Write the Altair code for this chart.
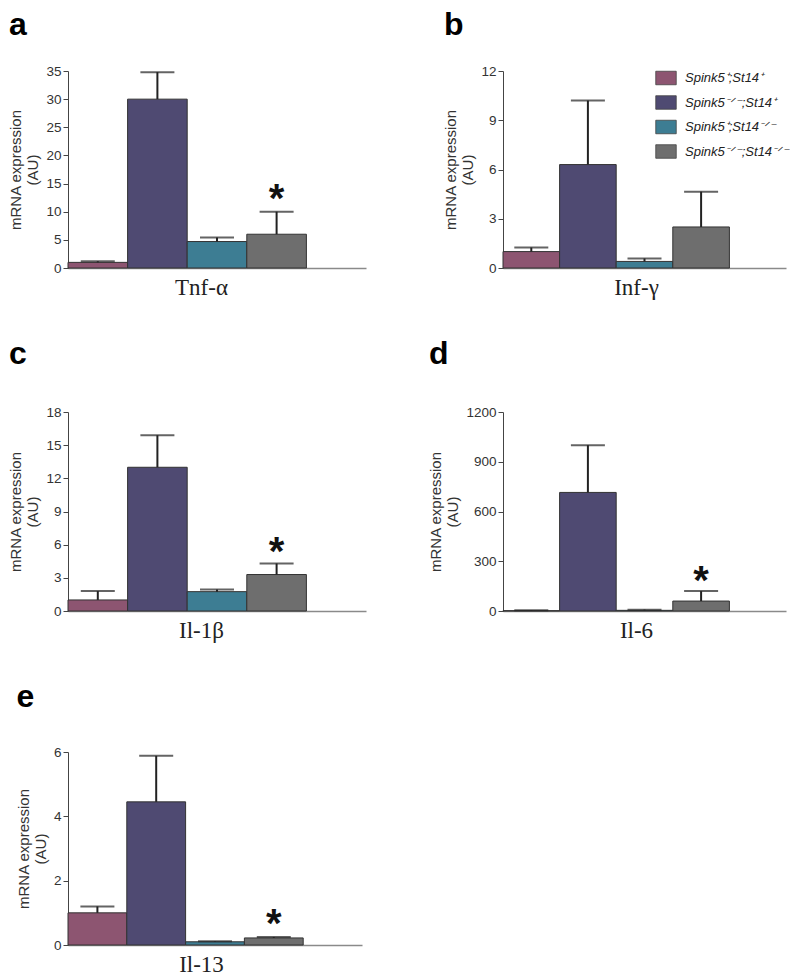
import altair as alt
import pandas as pd

genotypes = ["Spink5⁺;St14⁺", "Spink5⁻ᐟ⁻;St14⁺", "Spink5⁺;St14⁻ᐟ⁻", "Spink5⁻ᐟ⁻;St14⁻ᐟ⁻"]
colors = ["#8d5571", "#4f4a72", "#3d7d93", "#6e6e6e"]
slots = genotypes + [" "]

letters = ["a", "b", "c", "d", "e"]
genes = ["Tnf-α", "Inf-γ", "Il-1β", "Il-6", "Il-13"]
means = [
    [1.0, 30.0, 4.7, 6.0],
    [1.0, 6.3, 0.4, 2.5],
    [1.0, 13.0, 1.75, 3.3],
    [2.0, 715.0, 4.0, 60.0],
    [1.0, 4.45, 0.1, 0.22],
]
uppers = [
    [1.2, 34.8, 5.4, 10.0],
    [1.25, 10.2, 0.58, 4.65],
    [1.8, 15.9, 1.95, 4.3],
    [5.0, 1000.0, 8.0, 120.0],
    [1.2, 5.88, 0.12, 0.25],
]
ymax = [35, 12, 18, 1200, 6]
yticks = [
    [0, 5, 10, 15, 20, 25, 30, 35],
    [0, 3, 6, 9, 12],
    [0, 3, 6, 9, 12, 15, 18],
    [0, 300, 600, 900, 1200],
    [0, 2, 4, 6],
]
stars = [13.5, None, 6.0, 225.0, 0.87]
heights = [197, 197, 199, 199, 193]
widths = [298, 283, 298, 283, 294]
title_offsets = [-3, -3, 9, 9, 6]

FONT = "Liberation Sans"


def panel(i):
    df = pd.DataFrame({"geno": genotypes, "mean": means[i], "upper": uppers[i]})
    xaxis = alt.Axis(
        labels=False, ticks=False, domainColor="#8a8a8a", domainWidth=1.5,
        title=genes[i], titleFont="Liberation Serif", titleFontSize=23,
        titleFontWeight="normal", titleColor="#222", titleX=133, titleY=8,
        titleBaseline="top", titleAlign="center",
    )
    xscale = alt.Scale(domain=slots, paddingInner=0, paddingOuter=0)
    yscale = alt.Scale(domain=[0, ymax[i]], nice=False, zero=True)
    yaxis = alt.Axis(
        values=yticks[i], format="d", title=["mRNA expression", "(AU)"], titleFont=FONT,
        titleFontSize=15, titleFontWeight="normal", titleColor="#333",
        titleLineHeight=17, titlePadding=5, labelFont=FONT, labelFontSize=13.5,
        labelColor="#333", labelPadding=2, tickSize=5, tickColor="#444",
        domainColor="#444", grid=False, labelOverlap=False,
    )

    def X():
        return alt.X("geno:N", sort=slots, scale=xscale, axis=xaxis)

    def Y(field):
        return alt.Y(field, type="quantitative", scale=yscale, axis=yaxis)

    legend = None
    if i == 1:
        legend = alt.Legend(
            orient="none", legendX=152, legendY=-4, title=None,
            symbolType="M-1,-0.66L1,-0.66L1,0.66L-1,0.66Z", symbolSize=420,
            symbolStrokeColor="#444", symbolStrokeWidth=0.8, symbolOpacity=1,
            labelFont=FONT, labelFontStyle="italic", labelFontSize=13,
            labelColor="#222", labelOffset=8, rowPadding=4.5, padding=0,
            labelLimit=200,
        )
    base = alt.Chart(df)
    bars = base.mark_bar(stroke="#333", strokeWidth=1, opacity=1).encode(
        x=X(),
        y=Y("mean"),
        color=alt.Color("geno:N", scale=alt.Scale(domain=genotypes, range=colors), legend=legend),
    )
    rule = base.mark_rule(color="#222", strokeWidth=2).encode(
        x=X(), y=Y("mean"), y2="upper:Q"
    )
    cap = base.mark_tick(color="#222", thickness=2, size=34).encode(
        x=X(), y=Y("upper")
    )
    layers = [bars, rule, cap]
    if stars[i] is not None:
        sdf = pd.DataFrame({"geno": [genotypes[3]], "star": [stars[i]]})
        star = alt.Chart(sdf).mark_text(
            text="*", font=FONT, fontSize=40, fontWeight="bold", color="#111",
            baseline="middle", dy=8,
        ).encode(x=X(), y=Y("star"))
        layers.append(star)
    return alt.layer(*layers).properties(
        width=widths[i], height=heights[i],
        title=alt.TitleParams(
            text=letters[i], anchor="start", frame="bounds", fontSize=32,
            fontWeight="bold", font=FONT, color="#000", baseline="alphabetic",
            offset=title_offsets[i],
        ),
    )


chart = alt.concat(
    *[panel(i) for i in range(5)], columns=2, spacing={"row": 39, "column": 62}
).resolve_scale(color="independent", y="independent", x="independent").resolve_legend(
    color="independent"
).properties(padding={"left": 0, "top": 1, "right": 0, "bottom": 0}).configure_view(
    stroke=None
)

chart.save("out.html", embed_options={"renderer": "svg", "actions": False})
